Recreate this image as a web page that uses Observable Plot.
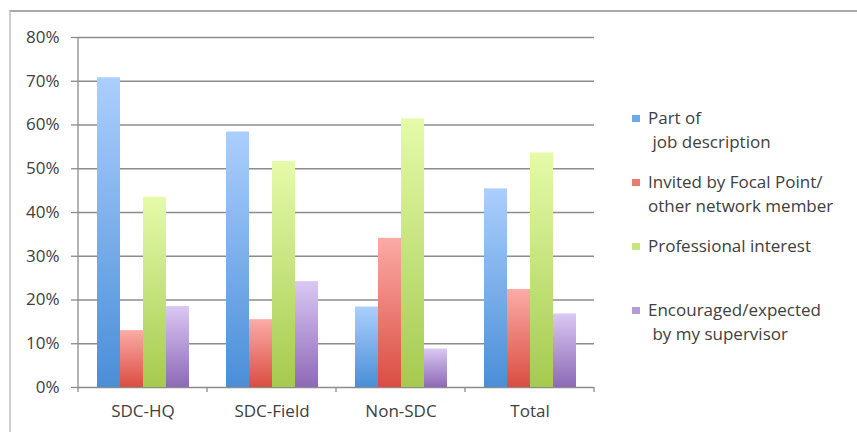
<!DOCTYPE html>
<html>
<head>
<meta charset="utf-8">
<script src="https://cdn.jsdelivr.net/npm/d3@7"></script>
<script src="https://cdn.jsdelivr.net/npm/@observablehq/plot@0.6"></script>
<style>
  body { margin: 0; background: #fff; font-family: "Open Sans", sans-serif; }
  #wrap { position: relative; width: 857px; height: 432px; overflow: hidden; background: #fff; }
  #frame { position: absolute; left: 9px; top: 10px; right: -10px; bottom: -10px;
           border-top: 2px solid #a9a9a9; border-left: 2px solid #cfcfcf; }
  #chart { position: absolute; left: 0; top: 0; }
  #legend { position: absolute; left: 632px; top: 106px; color: #404040; font-size: 17px; }
  .item { position: relative; height: 64px; }
  .sw { position: absolute; left: 0; top: 9px; width: 8px; height: 7px; }
  .lab { position: absolute; left: 16px; top: 0; line-height: 24px; white-space: pre; }
</style>
</head>
<body>
<div id="wrap">
  <div id="frame"></div>
  <div id="chart"></div>
  <div id="legend"></div>
</div>
<script>
// ---- data ----
const categories = ["SDC-HQ", "SDC-Field", "Non-SDC", "Total"];
const seriesNames = [
  "Part of job description",
  "Invited by Focal Point/ other network member",
  "Professional interest",
  "Encouraged/expected by my supervisor"
];
const legendLines = [
  ["Part of", " job description"],
  ["Invited by Focal Point/", "other network member"],
  ["Professional interest"],
  ["Encouraged/expected", " by my supervisor"]
];
const partOfJob    = [0.708, 0.584, 0.184, 0.454];
const invited      = [0.130, 0.155, 0.341, 0.224];
const professional = [0.435, 0.517, 0.614, 0.536];
const encouraged   = [0.185, 0.242, 0.088, 0.168];
const yTicks = [0, 0.1, 0.2, 0.3, 0.4, 0.5, 0.6, 0.7, 0.8];

// styles
const gradTop    = ["#abcffd", "#fbaba6", "#e5fbaa", "#dac8f3"];
const gradBottom = ["#4a8ed7", "#da4d41", "#a5ca4f", "#8d69b7"];
const swatch     = ["#6ea7ea", "#ec7a72", "#c6e67c", "#b39bda"];
const gridColor = "#8c8c8c";

const seriesValues = [partOfJob, invited, professional, encouraged];
const rows = categories.flatMap((c, i) =>
  seriesNames.map((s, j) => ({category: c, series: s, value: seriesValues[j][i]})));
const gradUrls = seriesNames.map((s, j) => `url(#grad${j})`);

const plot = Plot.plot({
  width: 857, height: 432,
  marginLeft: 77, marginRight: 262, marginTop: 37, marginBottom: 45,
  style: {fontFamily: '"Open Sans", sans-serif', fontSize: "17px", color: "#404040", background: "transparent", overflow: "visible"},
  facet: {data: rows, x: "category"},
  fx: {domain: categories, padding: 0, label: null, axis: "bottom", tickSize: 0, tickPadding: 17},
  x: {domain: seriesNames, paddingInner: 0, paddingOuter: 0.755, axis: null},
  y: {domain: [0, 0.8], ticks: yTicks, tickFormat: d3.format(".0%"), label: null, tickSize: 7, tickPadding: 12},
  color: {domain: seriesNames, range: gradUrls},
  marks: [
    Plot.ruleY(yTicks, {stroke: gridColor, strokeWidth: 1.3}),
    Plot.barY(rows, {x: "series", y: "value", fill: "series"})
  ]
});

const svg = d3.select(plot);
// gradients
const defs = svg.insert("defs", ":first-child");
seriesNames.forEach((s, j) => {
  const lg = defs.append("linearGradient").attr("id", `grad${j}`)
    .attr("x1", 0).attr("y1", 0).attr("x2", 0).attr("y2", 1);
  lg.append("stop").attr("offset", "0%").attr("stop-color", gradTop[j]);
  lg.append("stop").attr("offset", "100%").attr("stop-color", gradBottom[j]);
});
// tick color for y axis (ticks grey, text dark)
svg.selectAll("g[aria-label='y-axis tick'] path, g[aria-label='y-axis tick'] line").attr("stroke", gridColor).attr("stroke-width", 1.3);

// left axis line and category boundary ticks, through plot scales
const fx = plot.scale("fx");
const y = plot.scale("y");
const y0 = y.apply(0), yTop = y.apply(0.8);
const bounds = categories.map(c => fx.apply(c));
bounds.push(fx.apply(categories[categories.length - 1]) + fx.bandwidth);
const g = svg.append("g").attr("stroke", gridColor).attr("stroke-width", 1.3);
g.append("line").attr("x1", bounds[0]).attr("x2", bounds[0]).attr("y1", yTop).attr("y2", y0);
bounds.forEach(b => g.append("line").attr("x1", b).attr("x2", b).attr("y1", y0).attr("y2", y0 + 5));

document.getElementById("chart").appendChild(plot);

// legend
const legend = d3.select("#legend");
legendLines.forEach((lines, j) => {
  const it = legend.append("div").attr("class", "item");
  it.append("div").attr("class", "sw").style("background", swatch[j]);
  it.append("div").attr("class", "lab").text(lines.join("\n"));
});
</script>
</body>
</html>
